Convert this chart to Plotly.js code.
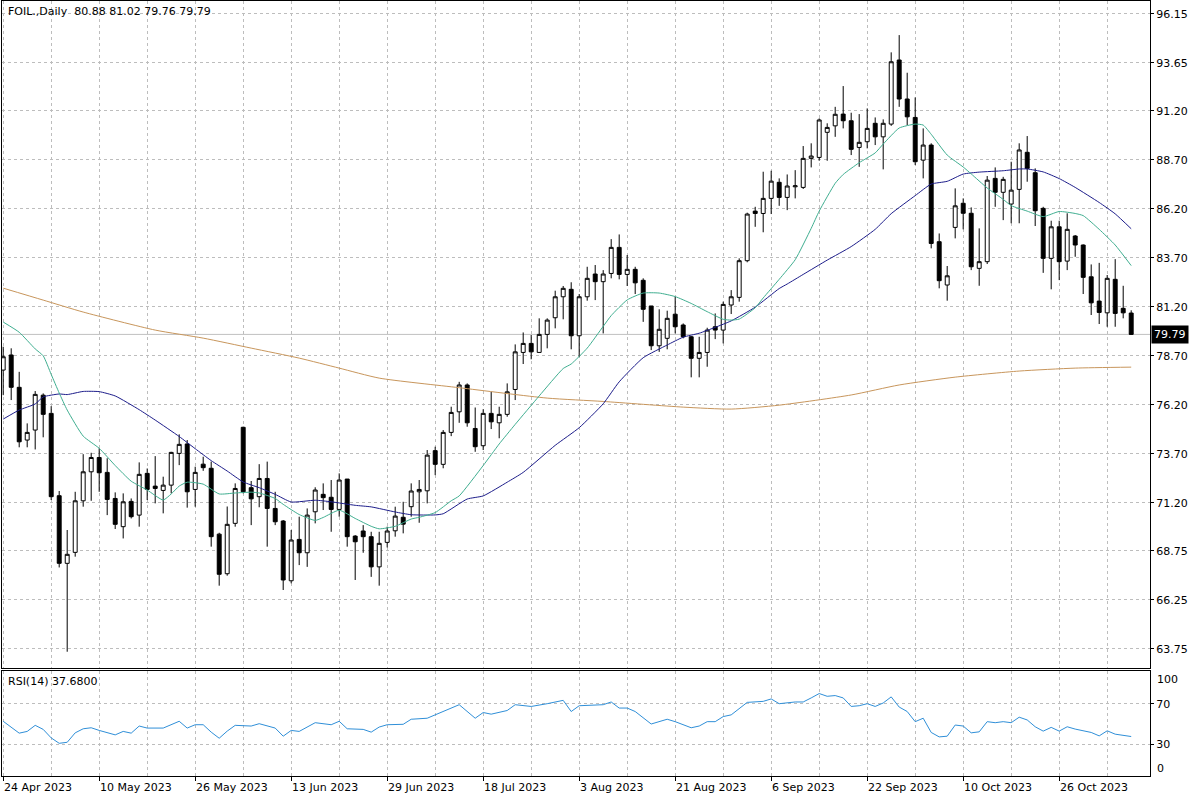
<!DOCTYPE html>
<html><head><meta charset="utf-8">
<script src="https://cdn.plot.ly/plotly-3.0.1.min.js"></script>
<style>html,body{margin:0;padding:0;background:#fff}#chart{width:1200px;height:800px}</style>
</head><body><div id="chart"></div>
<script>
const symbolTitle = "FOIL.,Daily";
const rsiTitle = "RSI(14)";

const openP = [77.97,78.74,77.09,74.40,74.91,76.69,75.76,71.56,68.11,68.67,
71.30,72.78,73.51,72.75,71.42,69.98,71.27,70.57,72.70,72.05,
71.83,72.10,73.72,74.20,71.88,73.17,72.96,69.60,67.58,70.15,
75.05,71.97,71.51,72.44,70.91,70.27,67.22,69.33,68.65,70.74,
71.63,71.48,70.86,72.41,69.50,69.76,69.47,67.93,69.18,69.77,
70.46,71.00,71.76,71.81,73.86,73.16,74.79,75.84,77.21,74.99,
74.11,75.76,75.28,75.71,76.98,78.87,79.33,78.87,79.79,80.64,
81.71,82.09,79.72,81.71,82.87,82.48,82.90,84.23,82.85,83.11,
82.55,81.24,79.21,79.59,80.82,80.27,79.67,78.57,78.87,80.18,
80.01,81.29,81.68,83.55,86.08,85.96,86.73,87.55,86.78,87.32,
87.29,88.77,88.82,90.10,90.43,91.03,90.69,89.33,89.62,90.56,
89.87,90.52,93.79,91.80,90.86,88.68,89.45,84.52,82.31,85.25,
86.48,85.97,83.16,83.50,87.75,87.04,86.44,87.19,89.08,88.04,
86.22,83.67,85.28,83.53,84.81,84.35,82.73,81.49,80.89,82.60,
81.12,80.88];
const highP = [79.16,79.08,77.88,75.25,76.90,76.78,76.13,71.80,69.81,71.76,
73.68,73.75,73.98,73.47,71.73,71.68,71.42,73.26,72.95,73.58,
72.53,73.80,74.69,74.40,73.04,73.55,73.30,69.67,71.01,72.19,
75.08,72.31,73.17,73.30,71.76,70.32,69.81,70.49,70.91,71.99,
72.19,72.36,72.70,72.41,69.55,70.06,69.72,69.72,69.98,71.00,
71.25,72.19,72.36,73.89,74.06,74.91,76.10,77.37,77.29,76.06,
75.97,76.86,76.10,77.29,79.28,79.89,79.76,80.61,80.61,82.02,
82.26,82.45,81.85,83.24,83.33,83.07,84.65,84.89,83.84,83.24,
82.65,81.24,81.07,81.00,81.71,80.35,79.71,79.67,80.13,80.86,
81.46,82.05,83.67,86.00,86.30,88.09,88.14,87.75,87.95,88.17,
89.40,89.54,90.81,90.56,91.40,92.46,91.10,91.03,91.32,90.86,
90.76,94.18,95.06,93.14,91.88,90.30,89.54,84.94,83.28,87.24,
86.73,86.27,85.20,87.87,88.31,87.83,88.60,89.54,89.91,88.26,
86.30,85.59,85.59,85.97,84.86,84.38,83.36,83.44,82.82,83.63,
82.27,81.02];
const lowP = [76.69,76.44,74.03,74.03,73.92,74.54,71.34,67.90,63.60,68.45,
71.00,71.30,71.76,70.57,69.86,69.38,70.40,69.98,71.34,71.17,
70.66,71.68,73.12,70.95,71.00,72.83,68.96,66.97,67.48,69.98,
71.68,70.06,70.97,68.96,70.06,66.75,67.09,68.02,67.93,70.15,
70.83,69.72,70.49,68.96,67.26,68.65,67.42,66.97,68.92,69.47,
69.64,70.49,70.18,71.17,72.61,72.96,74.60,75.28,75.08,73.80,
73.89,74.96,74.49,75.59,76.44,78.28,78.52,78.87,79.08,80.10,
80.56,79.03,78.65,81.51,81.54,79.84,82.65,82.60,82.26,81.85,
80.43,78.99,78.90,79.03,79.84,79.59,77.60,77.60,78.14,79.55,
79.33,80.83,81.46,83.47,85.28,85.00,85.93,86.35,86.13,86.73,
87.21,88.31,88.65,88.65,89.87,90.30,88.94,88.34,89.28,89.45,
88.21,90.43,91.40,90.47,88.43,87.75,84.18,82.14,81.51,84.69,
85.15,83.07,82.27,83.38,86.30,85.62,85.46,85.46,87.58,85.32,
82.93,82.09,82.56,83.07,83.75,81.85,80.78,80.32,80.18,80.18,
80.61,79.76];
const closeP = [78.65,77.09,74.31,74.79,76.73,75.71,71.51,68.11,68.57,71.30,
72.78,73.51,72.73,71.37,70.10,71.25,70.49,72.65,71.88,71.93,
72.10,73.77,74.18,71.76,72.75,72.99,69.47,67.55,70.10,71.93,
71.76,71.40,72.44,70.91,70.23,67.26,69.30,68.65,70.57,71.85,
71.46,70.86,72.36,69.47,69.21,69.47,67.93,69.13,69.76,70.52,
70.11,71.80,71.88,73.63,73.16,74.79,75.81,77.21,75.28,74.06,
75.76,75.33,75.71,76.86,78.90,79.33,78.90,79.79,80.52,81.71,
82.14,79.72,81.71,82.65,82.48,82.87,84.23,82.85,83.11,82.42,
81.07,79.21,80.05,80.61,80.18,79.67,78.57,78.87,80.01,80.01,
81.32,81.71,83.55,85.93,85.96,86.73,87.61,86.78,87.36,87.37,
88.77,88.89,90.73,90.35,91.02,90.69,89.23,89.59,90.30,89.87,
90.56,93.70,91.80,90.89,88.60,89.45,84.43,82.53,82.78,86.35,
85.97,83.24,83.50,87.66,87.04,87.70,87.15,89.20,88.26,86.10,
83.67,85.28,83.50,85.15,84.35,82.70,81.40,80.91,82.65,80.86,
80.89,79.79];

// moving averages (bar index, value)
const maFastIdx = [0,2,4,5,6,7,8,10,12,14,16,18,20,21,22,23,25,27,29,31,32,34,35,37,39,40,42,44,46,47,49,51,52,54,56,57,60,62,64,67,70,71,73,75,76,78,80,82,84,86,88,90,91,92,94,95,97,99,101,102,104,105,107,109,110,112,114,115,116,118,120,121,123,125,126,128,130,132,134,135,137,139,141];
const maFastVal = [80.42,79.9,79.05,78.7,77.75,76.8,75.93,74.6,73.98,73.1,72.3,71.85,71.34,71.65,72.05,72.25,72.15,71.65,71.70,71.74,71.70,71.42,71.12,70.6,70.3,70.45,70.82,70.40,70.0,69.87,70.0,70.37,70.46,70.70,71.3,71.55,73.1,74.2,75.2,76.65,78.05,78.28,79.09,80.2,80.75,81.55,81.9,81.9,81.72,81.37,80.95,80.56,80.52,80.57,81.15,81.65,82.6,83.6,85.2,86.08,87.5,87.95,88.55,89.05,89.5,90.32,90.52,90.47,90.0,88.94,88.33,87.98,87.26,86.68,86.36,86.08,85.80,86.06,85.96,85.85,85.15,84.35,83.3];
const maMidIdx = [0,2,4,5,7,8,10,12,14,17,19,22,24,26,28,30,32,34,36,39,41,44,46,49,51,54,55,58,60,63,65,69,72,75,77,80,83,85,87,89,91,94,97,98,100,103,106,109,111,114,116,118,120,122,125,127,128,130,132,134,137,139,141];
const maMidVal = [75.47,75.93,76.24,76.6,76.75,76.72,76.88,76.87,76.65,75.95,75.42,74.58,73.96,73.35,72.82,72.26,71.97,71.63,71.24,71.33,71.25,71.07,70.99,70.73,70.59,70.58,70.64,71.39,71.55,72.25,72.75,74.13,75.03,76.25,77.37,78.6,79.25,79.65,79.85,80.15,80.48,81.18,82.13,82.36,82.85,83.58,84.27,85.15,85.95,86.87,87.46,87.60,87.97,88.07,88.14,88.23,88.23,88.08,87.74,87.29,86.52,85.94,85.18];
const maSlowIdx = [0,5,10,19,25,31,37,42,47,57,68,75,85,91,97,106,112,119,127,134,141];
const maSlowVal = [82.15,81.54,80.93,80.01,79.60,79.09,78.58,78.07,77.56,77.07,76.54,76.37,76.08,75.98,76.18,76.70,77.21,77.61,77.92,78.07,78.12];

const rsiIdx = [0,2,3,4,5,6,7,8,9,10,11,12,14,15,16,17,18,20,22,23,24,25,26,27,28,29,31,32,34,35,36,37,39,41,42,43,45,46,47,48,50,51,53,54,55,57,59,60,61,63,64,66,68,70,71,72,75,76,77,78,79,81,83,84,86,87,88,89,90,91,93,95,96,97,99,100,101,102,103,104,105,106,107,108,109,110,111,112,113,114,115,116,117,118,119,120,121,122,123,124,125,126,127,128,129,130,131,132,133,134,136,137,138,139,141];
const rsiVal = [52.7,41,42.7,48.7,44.7,36.3,31,32,41.3,45.3,46.3,43.7,39.3,42.7,41,48,46,46,52.7,46,49.3,49.3,42,36,43,48.7,48,50.3,46,38,43.7,42.7,51.3,49.3,52.7,45.3,44.7,42,47,49.3,49.7,54.7,55.7,59,62.3,69,55.7,61.3,59.7,63.3,69,67.3,70,73.3,62.3,68,69,71.7,65.7,65.7,62.3,50,54.7,52.3,46.3,48,52.3,52.3,57.3,59,71.3,72.3,74.7,70,71.7,71.7,75.7,80,77.3,78,75.7,67.3,68,70,67.3,70.7,76.7,66.7,62.3,52.3,55.7,41.7,37.3,38,49,48,41.3,42.3,52.3,51.3,52.3,51.3,56.7,54,47.3,43,46.7,43,47.3,45,41.7,38.3,43.3,40,37.68];

const dateLabels = ["24 Apr 2023","10 May 2023","26 May 2023","13 Jun 2023","29 Jun 2023","18 Jul 2023","3 Aug 2023","21 Aug 2023","6 Sep 2023","22 Sep 2023","10 Oct 2023","26 Oct 2023"];
const barsPerLabel = 12;
const priceTicks = [96.15,93.65,91.20,88.70,86.20,83.70,81.20,78.70,76.20,73.70,71.20,68.75,66.25,63.75];
const priceTickText = ["96.15","93.65","91.20","88.70","86.20","83.70","81.20","78.70","76.20","73.70","71.20","68.75","66.25","63.75"];
const rsiTicks = [70,30];
const rsiTickText = ["70","30"];
const rsiBounds = [100, 0];

// ---- layout geometry ----
const FONT = "DejaVu Sans";
const gridCol = "#bdbdbd";
const gridDash = "3px,3px";
const mL = 2, mR = 50, mT = 1, mB = 24;
const plotH = 800 - mT - mB;
const bottomPx = 800 - mB;
const mainBottomPx = 668, rsiTopPx = 671;
const mainDomain = [(bottomPx - mainBottomPx) / plotH, 1];
const rsiDomain = [0, (bottomPx - rsiTopPx) / plotH];
const py = px => (bottomPx - px) / plotH;

const xs = openP.map((_, i) => i);
const labelBars = dateLabels.map((_, k) => k * barsPerLabel);
const last = openP.length - 1;
const xRange = [-0.15, 143.35];

const traces = [
  {type: 'candlestick', x: xs, open: openP, high: highP, low: lowP, close: closeP,
   xaxis: 'x', yaxis: 'y', whiskerwidth: 0, hoverinfo: 'skip',
   increasing: {line: {color: '#000', width: 1}, fillcolor: '#ffffff'},
   decreasing: {line: {color: '#000', width: 1}, fillcolor: '#000000'}},
  {type: 'scatter', mode: 'lines', x: maSlowIdx, y: maSlowVal, xaxis: 'x', yaxis: 'y',
   line: {color: '#c8965c', width: 1, shape: 'spline', smoothing: 0.6}, hoverinfo: 'skip'},
  {type: 'scatter', mode: 'lines', x: maMidIdx, y: maMidVal, xaxis: 'x', yaxis: 'y',
   line: {color: '#1c1c8a', width: 1, shape: 'spline', smoothing: 0.5}, hoverinfo: 'skip'},
  {type: 'scatter', mode: 'lines', x: maFastIdx, y: maFastVal, xaxis: 'x', yaxis: 'y',
   line: {color: '#3fae90', width: 1, shape: 'spline', smoothing: 0.5}, hoverinfo: 'skip'},
  {type: 'scatter', mode: 'lines', x: rsiIdx, y: rsiVal, xaxis: 'x2', yaxis: 'y2',
   line: {color: '#2f8fd8', width: 1}, hoverinfo: 'skip'}
];

const xCommon = {
  range: xRange, tickmode: 'array', tickvals: labelBars, showticklabels: false,
  showgrid: true, gridcolor: gridCol, griddash: gridDash, gridwidth: 1,
  minor: {tickmode: 'linear', tick0: 0, dtick: 6, showgrid: true, gridcolor: gridCol, griddash: gridDash, gridwidth: 1, ticks: ''},
  showline: true, mirror: true, linecolor: '#000', linewidth: 1, zeroline: false, fixedrange: true
};

const annotations = [];
annotations.push({xref: 'paper', yref: 'paper', x: 0, xshift: 4, y: py(12), xanchor: 'left', yanchor: 'middle',
  text: symbolTitle + '\u00a0\u00a0' + [openP[last], highP[last], lowP[last], closeP[last]].map(v => v.toFixed(2)).join(' '),
  showarrow: false, font: {family: FONT, size: 11, color: '#000'}});
annotations.push({xref: 'paper', yref: 'paper', x: 0, xshift: 4, y: py(681), xanchor: 'left', yanchor: 'middle',
  text: rsiTitle + ' ' + rsiVal[rsiVal.length - 1].toFixed(4),
  showarrow: false, font: {family: FONT, size: 11, color: '#000'}});
dateLabels.forEach((t, k) => {
  annotations.push({xref: 'x2', yref: 'paper', x: labelBars[k], xshift: -1, y: py(787), xanchor: 'left', yanchor: 'middle',
    text: t, showarrow: false, font: {family: FONT, size: 11, color: '#000'}});
});
annotations.push({xref: 'paper', yref: 'paper', x: 1, xshift: 5, y: py(679), xanchor: 'left', yanchor: 'middle',
  text: String(rsiBounds[0]), showarrow: false, font: {family: FONT, size: 11, color: '#000'}});
annotations.push({xref: 'paper', yref: 'paper', x: 1, xshift: 5, y: py(768), xanchor: 'left', yanchor: 'middle',
  text: String(rsiBounds[1]), showarrow: false, font: {family: FONT, size: 11, color: '#000'}});
annotations.push({xref: 'paper', yref: 'y', x: 1, xshift: 1, y: closeP[last], xanchor: 'left', yanchor: 'middle',
  text: closeP[last].toFixed(2), showarrow: false, bgcolor: '#000', borderpad: 2,
  font: {family: FONT, size: 11, color: '#fff'}});

const layout = {
  width: 1200, height: 800,
  margin: {l: mL, r: mR, t: mT, b: mB, pad: 0},
  paper_bgcolor: '#fff', plot_bgcolor: '#fff',
  showlegend: false, dragmode: false,
  font: {family: FONT, size: 11, color: '#000'},
  xaxis: Object.assign({}, xCommon, {anchor: 'y', domain: [0, 1], ticks: '', rangeslider: {visible: false}}),
  xaxis2: Object.assign({}, xCommon, {anchor: 'y2', domain: [0, 1], matches: 'x', ticks: 'outside', ticklen: 4, tickcolor: '#000', tickwidth: 1}),
  yaxis: {domain: mainDomain, anchor: 'x', side: 'right', range: [62.77, 96.80],
    tickmode: 'array', tickvals: priceTicks, ticktext: priceTickText,
    ticks: 'outside', ticklen: 3, tickcolor: '#000',
    tickfont: {family: FONT, size: 11, color: '#000'},
    showgrid: true, gridcolor: gridCol, griddash: gridDash, gridwidth: 1,
    showline: true, mirror: true, linecolor: '#000', linewidth: 1, zeroline: false, fixedrange: true},
  yaxis2: {domain: rsiDomain, anchor: 'x2', side: 'right', range: [-1.2, 102.2],
    tickmode: 'array', tickvals: rsiTicks, ticktext: rsiTickText,
    ticks: 'outside', ticklen: 3, tickcolor: '#000',
    tickfont: {family: FONT, size: 11, color: '#000'},
    showgrid: true, gridcolor: gridCol, griddash: gridDash, gridwidth: 1,
    showline: true, mirror: true, linecolor: '#000', linewidth: 1, zeroline: false, fixedrange: true},
  shapes: [{type: 'line', xref: 'paper', x0: 0, x1: 1, yref: 'y', y0: closeP[last], y1: closeP[last],
    line: {color: '#c0c0c0', width: 1}, layer: 'below'}],
  annotations: annotations
};

Plotly.newPlot('chart', traces, layout, {staticPlot: true, displayModeBar: false});
</script>
</body></html>
